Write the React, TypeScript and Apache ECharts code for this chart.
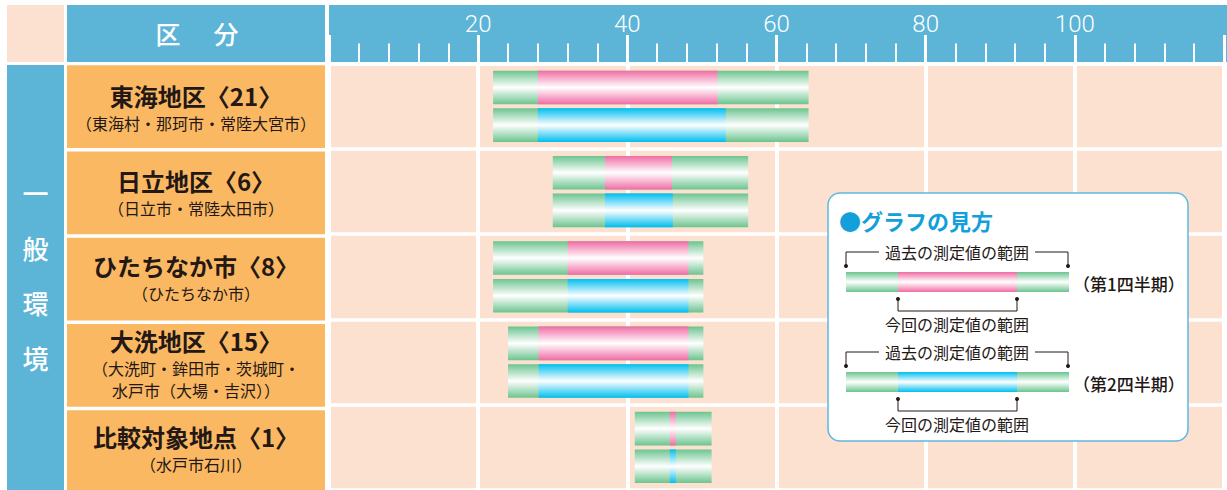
import React, { useEffect, useRef } from "react";
import * as echarts from "echarts";

// ---- data ----
const categoryNames = ["東海地区〈21〉", "日立地区〈6〉", "ひたちなか市〈8〉", "大洗地区〈15〉", "比較対象地点〈1〉"];
const categorySubs = [
  "（東海村・那珂市・常陸大宮市）",
  "（日立市・常陸太田市）",
  "（ひたちなか市）",
  "（大洗町・鉾田市・茨城町・\n水戸市（大場・吉沢））",
  "（水戸市石川）",
];
const pastMin = [22, 30, 22, 24, 41];
const pastMax = [64.3, 56.2, 50.2, 50.2, 51.3];
const q1Min = [28, 37, 32, 28.1, 45.7];
const q1Max = [52.1, 46, 48.2, 48.2, 46.5];
const q2Min = [28, 37, 32, 28.1, 45.7];
const q2Max = [53.2, 46.1, 48.2, 48.2, 46.5];
const axisMin = 0;
const axisMax = 120;
const axisInterval = 20;

// ---- styles ----
const BLUE = "#5cb4d6";
const ORANGE = "#fbb863";
const PEACH = "#fce1d1";
const GREEN = "#6cc48f";
const PINK = "#f06ca4";
const CYAN = "#00bef0";
const INK = "#231815";
const JP = "'Noto Sans CJK JP', 'Noto Sans', sans-serif";

const grad = (c: string) =>
  new echarts.graphic.LinearGradient(0, 0, 0, 1, [
    { offset: 0, color: c },
    { offset: 0.5, color: "#ffffff" },
    { offset: 1, color: c },
  ]);

const GRID_TOP = 63.5;
const ROW = 86.25;

export default function App() {
  const ref = useRef<HTMLDivElement>(null);
  useEffect(() => {
    const chart = echarts.init(ref.current!, null, { renderer: "svg" });

    const makeSeries = (name: string, mins: number[], maxs: number[], color: string, offset: number) => ({
      type: "custom",
      name,
      encode: { x: [1, 2, 3, 4], y: 0 },
      data: categoryNames.map((_, i) => [i, pastMin[i], pastMax[i], mins[i], maxs[i]]),
      z: 5,
      renderItem: (params: any, api: any) => {
        const cat = api.value(0);
        const p0 = api.coord([api.value(1), cat]);
        const p1 = api.coord([api.value(2), cat]);
        const c0 = api.coord([api.value(3), cat]);
        const c1 = api.coord([api.value(4), cat]);
        const band = api.size([0, 1])[1];
        const h = band * 0.394;
        const cy = p0[1] + offset * band;
        return {
          type: "group",
          children: [
            { type: "rect", shape: { x: p0[0], y: cy - h / 2, width: p1[0] - p0[0], height: h }, style: { fill: grad(GREEN) } },
            { type: "rect", shape: { x: c0[0], y: cy - h / 2, width: Math.max(c1[0] - c0[0], 1), height: h }, style: { fill: grad(color) } },
          ],
        };
      },
    });

    const graphics: any[] = [];
    graphics.push({ type: "rect", z: -10, shape: { x: 7, y: 5, width: 57, height: 57 }, style: { fill: PEACH } });
    graphics.push({ type: "rect", z: -10, shape: { x: 67, y: 5, width: 258, height: 57 }, style: { fill: BLUE } });
    graphics.push({ type: "rect", z: -10, shape: { x: 329, y: 5, width: 900, height: 57 }, style: { fill: BLUE } });
    graphics.push({ type: "rect", z: -10, shape: { x: 7, y: 65, width: 57, height: 430 }, style: { fill: BLUE } });
    graphics.push({ type: "text", z: 10, x: 168, y: 33, style: { text: "区", fill: "#fff", font: `500 25px ${JP}`, align: "center", verticalAlign: "middle" } });
    graphics.push({ type: "text", z: 10, x: 226, y: 33, style: { text: "分", fill: "#fff", font: `500 25px ${JP}`, align: "center", verticalAlign: "middle" } });
    graphics.push({
      type: "text", z: 10, x: 35.5, y: 275,
      style: { text: "一\n般\n環\n境", fill: "#fff", font: `500 26px ${JP}`, lineHeight: 55, align: "center", verticalAlign: "middle" },
    });
    categoryNames.forEach((_, i) => {
      graphics.push({
        type: "rect", z: -10,
        shape: { x: 67, y: GRID_TOP + ROW * i + 1.75, width: 258, height: ROW - 3.5 },
        style: { fill: ORANGE },
      });
    });

    // legend box
    const LZ = 200;
    graphics.push({ type: "rect", z: LZ, shape: { x: 828, y: 193, width: 360, height: 248, r: 12 }, style: { fill: "#fff", stroke: "#5fb8e0", lineWidth: 1.5 } });
    graphics.push({ type: "text", z: LZ + 1, x: 839, y: 220, style: { text: "●グラフの見方", fill: "#139fda", font: `bold 22px ${JP}`, verticalAlign: "middle" } });
    [0, 1].forEach((k) => {
      const dy = k * 100;
      const cur = k === 0 ? PINK : CYAN;
      const z = LZ + 1;
      graphics.push({ type: "rect", z, shape: { x: 846, y: 272 + dy, width: 223, height: 20 }, style: { fill: grad(GREEN) } });
      graphics.push({ type: "rect", z: z + 1, shape: { x: 898, y: 272 + dy, width: 119, height: 20 }, style: { fill: grad(cur) } });
      graphics.push({ type: "polyline", z, shape: { points: [[846, 266 + dy], [846, 252 + dy], [879, 252 + dy]] }, style: { stroke: INK, lineWidth: 1, fill: null } });
      graphics.push({ type: "polyline", z, shape: { points: [[1035, 252 + dy], [1068, 252 + dy], [1068, 266 + dy]] }, style: { stroke: INK, lineWidth: 1, fill: null } });
      graphics.push({ type: "circle", z, shape: { cx: 846, cy: 266 + dy, r: 2 }, style: { fill: INK } });
      graphics.push({ type: "circle", z, shape: { cx: 1068, cy: 266 + dy, r: 2 }, style: { fill: INK } });
      graphics.push({ type: "text", z, x: 957, y: 252 + dy, style: { text: "過去の測定値の範囲", fill: INK, font: `16px ${JP}`, align: "center", verticalAlign: "middle" } });
      graphics.push({ type: "polyline", z, shape: { points: [[898, 299 + dy], [898, 311 + dy], [1017, 311 + dy], [1017, 299 + dy]] }, style: { stroke: INK, lineWidth: 1, fill: null } });
      graphics.push({ type: "circle", z, shape: { cx: 898, cy: 299 + dy, r: 2 }, style: { fill: INK } });
      graphics.push({ type: "circle", z, shape: { cx: 1017, cy: 299 + dy, r: 2 }, style: { fill: INK } });
      graphics.push({ type: "text", z, x: 957, y: 324 + dy, style: { text: "今回の測定値の範囲", fill: INK, font: `16px ${JP}`, align: "center", verticalAlign: "middle" } });
      graphics.push({ type: "text", z, x: 1073, y: 283 + dy, style: { text: k === 0 ? "（第1四半期）" : "（第2四半期）", fill: INK, font: `500 17px ${JP}`, verticalAlign: "middle" } });
    });

    chart.setOption({
      animation: false,
      backgroundColor: "#ffffff",
      grid: {
        left: 329,
        right: -2,
        top: GRID_TOP,
        bottom: 490 - (GRID_TOP + ROW * 5),
        show: true,
        backgroundColor: PEACH,
        borderWidth: 0,
      },
      xAxis: {
        type: "value",
        position: "top",
        min: axisMin,
        max: axisMax,
        interval: axisInterval,
        axisLine: { show: true, lineStyle: { color: "#fff", width: 3.5 } },
        axisTick: { show: true, length: 28.5, lineStyle: { color: "#fff", width: 3 } },
        minorTick: { show: true, splitNumber: 5, length: 20, lineStyle: { color: "#fff", width: 2 } },
        minorSplitLine: { show: false },
        splitLine: { show: true, lineStyle: { color: "#fff", width: 4 } },
        axisLabel: {
          color: "#fff",
          fontSize: 24,
          fontFamily: "Roboto, 'Liberation Sans', sans-serif",
          fontWeight: 300,
          margin: 28,
          formatter: (v: number) => (v === axisMin || v === axisMax ? "" : String(v)),
        },
      },
      yAxis: {
        type: "category",
        inverse: true,
        data: categoryNames,
        axisLine: { show: false },
        axisTick: { show: false },
        splitLine: { show: true, lineStyle: { color: "#fff", width: 3.5 } },
        axisLabel: {
          margin: 133,
          align: "center",
          verticalAlign: "middle",
          formatter: (v: string, i: number) => `{m|${v}}\n{s|${categorySubs[i].replace("\n", "}\n{s|")}}`,
          rich: {
            m: { fontFamily: JP, fontSize: 24, fontWeight: "bold", color: INK, lineHeight: 33, align: "center" },
            s: { fontFamily: JP, fontSize: 16, color: INK, lineHeight: 22, align: "center" },
          },
        },
      },
      graphic: graphics,
      series: [makeSeries("第1四半期", q1Min, q1Max, PINK, -0.219), makeSeries("第2四半期", q2Min, q2Max, CYAN, 0.222)],
    });
    return () => chart.dispose();
  }, []);
  return <div ref={ref} style={{ position: "absolute", left: 0, top: 0, width: 1227, height: 490 }} />;
}
